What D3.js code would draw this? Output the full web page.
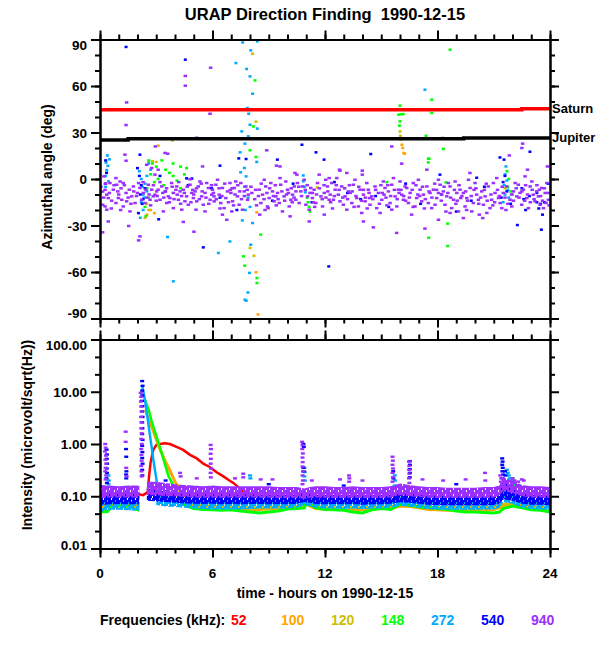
<!DOCTYPE html>
<html><head><meta charset="utf-8">
<script src="https://cdn.jsdelivr.net/npm/d3@7"></script>
<style>
body{margin:0;background:#fff}
svg text{font-family:"Liberation Sans",Arial,Helvetica,sans-serif;font-weight:bold;fill:#000;white-space:pre}
</style></head>
<body><svg id="c" width="600" height="650"></svg>
<script>
// ---------------- DATA ----------------
const freqLabels = ["52","100","120","148","272","540","940"];
const freqColors = ["#ff0000","#ffa500","#cdbe00","#00ff00","#00aaff","#0000ff","#9b30ff"];
const hourTicks = [0,6,12,18,24];
const angleTicks = [90,60,30,0,-30,-60,-90];
const intensityTicks = [100,10,1,0.1,0.01];
const intensityTickLabels = ["100.00","10.00","1.00","0.10","0.01"];

// planet directions [hour, deg]
const saturnDir = [[0,44.7],[22.5,44.7],[22.5,45.4],[24,45.4]];
const jupiterDir = [[0,25.2],[1.5,25.2],[1.5,25.9],[19.4,25.9],[19.4,26.5],[24,26.5]];

// azimuth points [hour, deg]
const az940 = [
[0.14,-8.1],[0.27,-7],[0.36,-10.1],[0.44,-12.3],[0.14,-16.6],[0.27,-17.7],[0.53,-2.6],[0.71,-6.9],[0.85,0.6],[0.89,-3.7],[0.98,-12.3],[0.85,-15.5],[0.36,-19.8],[0.44,-27.4],[0.14,-34.4],[0.21,1.7],
[1.07,-1.6],[1.24,-2.6],[1.39,-9],[1.56,-6.9],[1.16,-13.4],[1.42,-14.4],[1.69,-11.2],[1.78,-4.8],[1.24,-17.7],[1.6,-20.9],[1.87,-15.5],[1.53,-30.3],[1.33,15.7],[1.39,11.8],[1.42,49.4],[1.39,34.8],
[2.06,-2.6],[2.13,-5.8],[2.31,-9],[2.58,-3.7],[2.76,-6.9],[2.84,-11.2],[2.22,-13.4],[2.4,-15.5],[2.67,-13.4],[2.93,-10.1],[3.02,-8],[2.13,-37],[2.06,-39.6],[2.49,9.2],[2.76,7.1],[2.93,2.8],[2.95,21],
[3.1,-6.9],[3.29,-4.8],[3.47,-8],[3.64,-11.2],[3.82,-2.6],[3.91,-9],[3.2,-13.4],[3.56,-15.5],[3.73,-12.3],[3.38,-20.9],[3.91,-18.8],[3.1,6],[3.47,16.8],[3.61,16.3],
[4.09,-4.8],[4.27,-8],[4.44,-6.9],[4.62,-11.2],[4.8,-3.7],[4.89,-9],[4.18,-13.4],[4.53,-14.4],[4.71,-16.6],[4.36,-19.8],[4.44,-27.7],[4.8,-0.2],[4.12,-10.1],[4.98,-12.3],[4.55,66.5],[4.55,60.2],
[5.07,-8],[5.24,-4.8],[5.42,-11.2],[5.6,-9],[5.78,-5.8],[5.87,-13.4],[5.16,-14.4],[5.51,-16.6],[5.69,-2.6],[5.33,-1.6],[5.01,-34],[5.96,-10.1],[5.12,-19.8],[5.6,-20.9],[5.9,71.8],[5.87,42.1],[5.16,26.6],[5.47,8.1],
[6.0,-6.9],[6.18,-3.7],[6.36,-10.1],[6.53,-5.8],[6.71,-12.3],[6.8,-8],[6.09,-14.4],[6.44,-15.5],[6.62,-18.8],[6.27,-0.5],[6.93,-2.6],[6.76,-26.3],[6.08,-11.2],[6.53,-23],
[6.98,-9],[7.16,-5.8],[7.33,-11.2],[7.51,-2.6],[7.69,-8],[7.87,-13.4],[7.07,-14.4],[7.42,-16.6],[7.78,-4.8],[7.24,-1.6],[7.6,-19.8],[7.91,-10.1],[7.03,-20.9],
[8.49,-6.9],[8.67,-10.1],[8.84,-4.8],[9.02,-12.3],[9.2,-8],[9.29,-14.4],[8.58,-15.5],[8.93,-17.7],[9.11,-2.6],[8.76,-0.5],[9.38,-11.2],[8.52,-23],[8.97,-18.8],[8.89,18.5],[8.1,-9],[8.25,-13],
[9.47,-9],[9.64,-3.7],[9.82,-11.2],[10.0,-6.9],[10.18,-13.4],[10.36,-4.8],[9.56,-15.5],[9.91,-1.6],[10.09,-17.7],[10.27,-10.1],[9.73,-20.9],[9.6,0.6],[9.6,8.1],[10.14,-24.1],[9.41,8.6],[10.4,3.9],
[10.53,-2.6],[10.71,-8],[10.89,-0.5],[11.07,-11.2],[11.24,-5.8],[10.44,-13.4],[10.62,-15.5],[10.98,-16.6],[11.16,-19.8],[10.8,-4.8],[11.33,-9],[10.5,2.8],[11.16,-27.4],
[11.42,-6.9],[11.6,-2.6],[11.78,-11.2],[11.96,-9],[12.13,-4.8],[12.22,-13.4],[11.51,-15.5],[11.87,-17.7],[12.04,-0.5],[11.69,2.8],[12.28,-10.1],[11.33,-12.3],[11.96,-23],[12.22,0.6],
[12.36,-2.6],[12.54,-6.9],[12.71,-10.1],[12.89,-4.8],[13.07,-11.2],[13.25,-8],[12.45,-13.4],[12.8,-14.4],[12.98,-16.6],[12.63,0.6],[13.16,-19.8],[12.77,6],[13.16,3.9],[12.8,5.4],
[13.34,-9],[13.51,-3.7],[13.69,-12.3],[13.87,-6.9],[14.05,-10.1],[14.23,-2.6],[13.43,-15.5],[13.78,-17.7],[13.96,-21.9],[14.14,-14.4],[14.05,-27.4],[13.6,-0.5],[13.99,5.4],[13.99,2.8],
[14.31,-6.9],[14.49,-11.2],[14.67,-4.8],[14.85,-9],[15.03,-13.4],[15.2,-5.8],[14.4,-16.6],[14.76,-18.8],[15.11,-1.6],[14.58,-31.2],[14.94,-21.9],[14.37,-12.3],[15.15,-10.1],
[15.38,-8],[15.56,-3.7],[15.74,-11.2],[15.91,-6.9],[16.09,-10.1],[16.18,-13.4],[15.47,-15.5],[15.83,-17.7],[16.0,-1.6],[15.65,0.6],[15.82,-34.8],[16.27,-4.8],[15.56,-19.8],[16.09,9.9],[15.56,21],
[16.36,-5.8],[16.54,-9],[16.71,-2.6],[16.89,-12.3],[17.07,-6.9],[17.25,-10.1],[16.45,-15.5],[16.8,-17.7],[16.98,-0.5],[17.16,-14.4],[16.62,-23],[17.33,-32],
[17.43,-4.8],[17.6,-9],[17.78,-6.9],[17.96,-12.3],[18.14,-3.7],[18.23,-10.1],[17.51,-15.5],[17.87,-16.6],[18.05,-0.5],[17.69,-18.8],[18.05,-26.3],[17.43,6],
[18.31,-8],[18.49,-11.2],[18.67,-4.8],[18.85,-13.4],[19.03,-9],[19.2,-6.9],[18.4,-16.6],[18.76,-18.8],[18.94,-1.6],[19.12,-20.9],[18.58,-2.6],[19.24,-12.3],[18.67,-21.9],
[19.38,-9],[19.56,-12.3],[19.74,-5.8],[19.91,-15.5],[20.09,-10.1],[20.18,-13.4],[19.47,-17.7],[19.83,-20.9],[20.0,-2.6],[19.65,-0.5],[20.23,-23],[19.38,-25.2],[19.73,3.9],
[20.36,-8],[20.54,-11.2],[20.71,-4.8],[20.89,-13.4],[21.07,-9],[21.25,-12.3],[20.45,-16.6],[20.8,-18.8],[20.98,-2.6],[20.63,-21.9],[21.16,0.6],[20.41,-25.2],
[21.34,-15.5],[21.51,-9],[21.69,-4.8],[21.87,-13.4],[22.05,-8],[22.23,-11.2],[21.43,-18.8],[21.96,-17.7],[22.14,-2.6],[22.31,-3.7],[21.83,15.2],
[22.4,-9],[22.58,-6.9],[22.76,-12.3],[22.94,-4.8],[23.11,-10.1],[23.2,-14.4],[22.49,-16.6],[22.85,-18.8],[23.03,-1.6],[22.67,1.7],[23.29,-8],[22.8,6],[22.54,22.8],[22.5,20],
[23.38,-11.2],[23.56,-5.8],[23.74,-9],[23.83,-2.6],[23.91,-13.4],[23.47,-16.6],[23.65,-18.8],[23.86,8.1],[23.43,-6.9],[23.79,-15.5],
[0.05,-5],[0.2,-12],[0.5,-9],[0.62,-14],[0.75,-4],[0.95,-8],[0.6,-19],[0.3,-3],
[1.0,-10],[1.12,-6],[1.3,-4],[1.5,-12],[1.65,-16],[1.8,-8],[1.95,-11],[1.1,-20],
[2.0,-9],[2.45,-7],[2.62,-10],[2.85,-4],[2.3,-2],[2.7,-17],[3.0,-14],[2.5,-12],
[3.05,-11],[3.2,-2],[3.35,-9],[3.55,-6],[3.7,-15],[3.85,-5],[3.95,-13],[3.4,-12],
[4.05,-7],[4.2,-2],[4.35,-11],[4.5,-9],[4.65,-5],[4.85,-15],[4.95,-7],[4.3,-16],
[5.0,-10],[5.15,-6],[5.3,-13],[5.45,-8],[5.65,-12],[5.8,-16],[5.95,-4],[5.4,-3],
[6.05,-9],[6.2,-13],[6.35,-6],[6.5,-11],[6.65,-3],[6.85,-15],[6.95,-7],[6.4,-19],
[7.05,-6],[7.2,-10],[7.35,-4],[7.55,-13],[7.7,-11],[7.85,-7],[7.12,-17],[7.45,-8],
[8.05,-5],[8.3,-7],[8.45,-11],[8.6,-3],[8.75,-13],[8.9,-9],[8.35,-17],[8.8,-20],
[9.05,-6],[9.25,-11],[9.35,-4],[9.5,-13],[9.7,-8],[9.85,-14],[9.95,-10],[9.4,-17],
[10.05,-9],[10.2,-6],[10.35,-12],[10.45,-8],[10.6,-5],[10.75,-11],[10.95,-7],[10.25,-15],
[11.05,-4],[11.2,-9],[11.38,-15],[11.55,-10],[11.7,-6],[11.85,-13],[11.95,-4],[11.45,-18],
[12.05,-12],[12.15,-8],[12.3,-15],[12.5,-11],[12.6,-4],[12.75,-7],[12.95,-12],[12.4,-19],
[13.05,-6],[13.2,-13],[13.3,-4],[13.45,-8],[13.65,-11],[13.8,-5],[13.95,-14],[13.55,-18],
[14.05,-7],[14.15,-12],[14.35,-9],[14.55,-13],[14.7,-7],[14.9,-16],[14.98,-4],[14.25,-19],
[15.05,-9],[15.25,-12],[15.35,-4],[15.5,-11],[15.7,-7],[15.85,-13],[15.95,-9],[15.3,-17],
[16.05,-7],[16.2,-11],[16.3,-14],[16.5,-12],[16.65,-7],[16.85,-4],[16.95,-10],[16.7,-18],
[17.05,-11],[17.2,-5],[17.35,-13],[17.55,-8],[17.7,-12],[17.85,-3],[17.95,-7],[17.3,-19],
[18.05,-9],[18.2,-14],[18.35,-5],[18.55,-9],[18.7,-12],[18.9,-7],[18.98,-16],[18.45,-21],
[19.05,-14],[19.15,-4],[19.3,-11],[19.5,-8],[19.6,-14],[19.8,-11],[19.95,-7],[19.55,-20],
[20.05,-6],[20.2,-16],[20.3,-12],[20.5,-7],[20.65,-14],[20.85,-10],[20.95,-17],[20.6,-3],
[21.05,-15],[21.2,-7],[21.3,-11],[21.45,-5],[21.6,-12],[21.75,-16],[21.95,-10],[21.65,-20],
[22.05,-14],[22.2,-6],[22.35,-12],[22.5,-8],[22.65,-14],[22.8,-10],[22.95,-15],[22.7,-4],
[23.05,-7],[23.15,-13],[23.3,-4],[23.5,-11],[23.6,-14],[23.7,-6],[23.9,-9],[23.95,-17]
];
const az540 = [
[1.39,85.2],[4.55,77],[2.13,15.7],[4.62,0.4],[4.9,0.3],[9.46,12.5],[7.4,13.3],[6.4,8.6],[0.3,12],[0.35,4],[0.28,-3],
[2.0,7],[2.1,2],[2.2,-4],[2.15,-10],[2.25,-16],[2.05,-22],[2.3,-13],[2.4,-6],[3.13,-26],[3.2,2],
[5.51,-44.1],[12.2,-56.4],[7.79,12.9],[10.77,22.1],[11.52,17.2],[11.95,12.5],[14.44,16.1],[22.93,17.6],[21.33,13.9],[21.55,12.5],[18.13,2.8],[20.09,0.8],[23.54,-32.7],[22.26,-29.7],
[3.5,-8],[4.7,-4],[5.95,-6],[6.4,-12],[7.3,-20],[9.2,-14],[10.3,-3],[11.3,-15],[12.5,-2],[13.2,-9],[13.9,-13],[14.7,-11],[15.4,-18],[16.3,-3],[17.1,-16],[18.2,-10],[19.0,-21],[19.8,-14],[20.5,-5],[21.4,-12],[21.9,-16],[22.6,-13],[23.3,-9],[23.7,-15],[23.9,-3],[22.7,-20],
[23.3,-15],[23.4,-19],[23.6,-23],[23.5,-16],[22.9,-11],[22.5,-6],[21.7,-8],[21.6,2],[21.5,-2]
];
const az272 = [
[0.39,15.2],[0.5,12.7],[0.32,10.6],[0.42,8.5],[0.36,5.8],[0.3,2],[0.45,-1.5],[0.3,-5],
[2.1,5],[2.2,0],[2.25,-5],[2.3,-10],[2.2,-15],[2.3,-20],[2.15,-25],[2.6,10],[2.7,6],[2.5,2],[2.4,-3],[2.35,-12],[2.5,-8],[3.6,-37.4],[3.91,-66],
[7.61,88.1],[8.39,88.8],[8.04,83],[7.82,71],[8.0,66.2],[8.14,55],[7.25,74.8],[7.86,45.8],[7.93,42.1],[8.0,35],[8.39,32.5],[7.56,30.7],[7.91,27.5],[7.73,22.8],[7.47,17.2],[8.36,11],[7.7,7.1],[7.5,4.3],[7.79,1.7],[7.59,-26.7],[8.14,-28.4],[8.04,-42.4],[7.97,-60.6],[7.89,-73.2],[7.73,-77.9],[7.8,-78.5],[7.7,-5],[7.9,-12],[8.0,-18],[7.75,-20],
[6.31,-47.7],[6.93,-40.3],[10.84,2.3],[10.84,-1.5],[10.9,-5],[10.95,-8.6],[17.33,57.6],[18.27,26.5],
[21.65,8.1],[21.6,3],[21.7,-1],[21.55,-4],[21.75,-7],[21.6,-10],[21.8,-12],[21.5,-15]
];
const az148 = [
[8.27,63.6],[8.18,33.9],[8.0,18.5],[8.32,14.2],[8.57,-35.9],[7.65,-49.9],[7.72,-55.9],[8.37,-63.9],[8.37,-67.1],
[2.6,12],[2.8,10],[3.0,8],[3.3,12],[3.5,6],[3.7,4],[3.9,2],[4.1,-1],[2.7,3],[2.9,-2],[3.1,0],[2.5,-6],[2.6,-12],[2.4,-18],[2.45,-24],[3.4,-4],[4.3,-6],[4.5,3],[4.62,7],[4.3,8],[3.9,10],
[11.1,-15],[11.15,-18],[11.2,-21],[11.05,-12],
[16.0,47.3],[15.93,41.5],[16.05,41.7],[16.17,41.9],[16.0,37.2],[15.97,34.4],
[17.69,51.2],[17.69,42.6],[18.67,83.4],[17.39,27.9],[18.31,19.4],[17.51,13.1],[17.51,10.7],[17.55,13.1],[18.45,-2.2],[17.53,-37.9],[18.54,-43.2],[18.54,-28.8],
[21.7,5],[21.8,0],[21.75,-5],[21.9,-8],[22.0,-10],[15.3,-2]
];
const az120 = [
[8.14,80.8],[8.32,37],[3.11,21.5],[3.86,24.9],[8.0,-44.5],[8.21,-49.5],[16.0,30.7],[16.02,27.9],[16.05,25.4],[11.59,-5.4],
[2.6,11],[2.8,11.5],[3.0,11],[2.5,-16],[2.6,-20],[21.6,-6]
];
const az100 = [
[16.1,22.1],[16.15,20],[16.2,16.8],[16.25,16.3],[8.32,-60.2],[8.43,-87.4],[8.36,-21.5],[2.9,-22],[2.7,-20],[2.5,-23],[2.4,-25]
];

// intensity bands [hour, low, high]  (null = gap)
const band940 = [[0,0.092,0.165],[0.5,0.095,0.16],[1,0.095,0.155],[1.5,0.095,0.16],[2.1,0.095,0.16],[2.2,null,null],[2.5,0.105,0.19],[3,0.105,0.19],[3.5,0.1,0.18],[4,0.1,0.17],[4.5,0.097,0.165],[5,0.095,0.16],[5.5,0.094,0.155],[6,0.095,0.16],[6.5,0.094,0.155],[7,0.095,0.155],[7.5,0.094,0.155],[8,0.095,0.155],[8.5,0.094,0.155],[9,0.094,0.155],[9.5,0.093,0.15],[10,0.093,0.15],[10.5,0.094,0.15],[10.9,0.09,0.14],[11.2,0.094,0.15],[11.5,0.095,0.155],[12,0.094,0.155],[12.5,0.093,0.15],[13,0.093,0.15],[13.5,0.094,0.155],[14,0.093,0.15],[14.5,0.093,0.15],[15,0.093,0.15],[15.5,0.095,0.155],[16,0.105,0.175],[16.5,0.1,0.165],[17,0.097,0.155],[17.5,0.094,0.15],[18,0.093,0.15],[18.5,0.093,0.145],[19,0.093,0.145],[19.5,0.093,0.145],[20,0.093,0.145],[20.5,0.093,0.15],[21,0.094,0.15],[21.3,0.105,0.16],[21.5,0.125,0.23],[22,0.115,0.2],[22.5,0.1,0.165],[23,0.095,0.155],[23.5,0.095,0.155],[24,0.093,0.15]];
const band540 = [[0,0.068,0.12],[0.5,0.07,0.12],[1,0.071,0.115],[1.5,0.07,0.115],[2.1,0.07,0.12],[2.2,null,null],[2.5,0.082,0.14],[3,0.08,0.13],[3.5,0.078,0.125],[4,0.075,0.12],[4.5,0.073,0.115],[5,0.072,0.112],[5.5,0.071,0.11],[6,0.072,0.112],[6.5,0.07,0.11],[7,0.071,0.11],[7.5,0.07,0.108],[8,0.071,0.11],[8.5,0.071,0.108],[9,0.07,0.108],[9.5,0.071,0.108],[10,0.07,0.107],[10.5,0.072,0.108],[10.9,0.078,0.115],[11.2,0.075,0.11],[11.5,0.071,0.107],[12,0.07,0.106],[12.5,0.071,0.106],[13,0.07,0.105],[13.5,0.071,0.106],[14,0.069,0.105],[14.5,0.07,0.105],[15,0.07,0.106],[15.5,0.072,0.108],[16,0.077,0.12],[16.5,0.075,0.115],[17,0.072,0.11],[17.5,0.069,0.105],[18,0.068,0.102],[18.5,0.067,0.1],[19,0.067,0.1],[19.5,0.067,0.1],[20,0.067,0.1],[20.5,0.067,0.1],[21,0.068,0.102],[21.3,0.072,0.11],[21.5,0.088,0.2],[22,0.082,0.15],[22.5,0.072,0.115],[23,0.069,0.108],[23.5,0.069,0.106],[24,0.067,0.105]];
const band272 = [[0,0.05,0.08],[0.5,0.055,0.085],[1,0.055,0.085],[1.5,0.054,0.082],[2.1,0.053,0.08],[2.2,null,null],[3.0,0.068,0.12],[3.5,0.064,0.1],[4,0.062,0.095],[4.5,0.06,0.09],[5,0.058,0.088],[5.5,0.057,0.086],[6,0.056,0.085],[6.5,0.056,0.085],[7,0.056,0.084],[7.5,0.056,0.083],[8,0.057,0.085],[8.5,0.058,0.088],[9,0.058,0.088],[9.5,0.058,0.088],[10,0.058,0.088],[10.5,0.06,0.09],[10.9,0.068,0.11],[11.2,0.064,0.1],[11.5,0.06,0.09],[12,0.058,0.088],[12.5,0.058,0.087],[13,0.057,0.086],[13.5,0.058,0.087],[14,0.057,0.086],[14.5,0.058,0.088],[15,0.058,0.088],[15.5,0.06,0.09],[16,0.065,0.1],[16.5,0.063,0.095],[17,0.06,0.09],[17.5,0.057,0.087],[18,0.056,0.086],[18.5,0.055,0.085],[19,0.055,0.085],[19.5,0.055,0.085],[20,0.055,0.085],[20.5,0.056,0.085],[21,0.056,0.086],[21.3,0.06,0.09],[21.5,0.078,0.2],[22,0.072,0.16],[22.5,0.06,0.09],[23,0.057,0.087],[23.5,0.056,0.086],[24,0.055,0.085]];
// intensity baselines [hour, value]
const line148 = [[0,0.05],[0.4,0.051],[0.6,0.062],[1,0.066],[1.5,0.064],[1.8,0.058],[2.1,0.054],[2.2,null],[4.3,0.075],[4.5,0.068],[5,0.058],[5.5,0.056],[6,0.055],[6.5,0.054],[7,0.055],[7.5,0.052],[8,0.05],[8.5,0.048],[9,0.05],[9.5,0.052],[10,0.057],[10.5,0.058],[10.9,0.06],[11,0.075],[11.5,0.06],[12,0.056],[12.5,0.055],[13,0.054],[13.5,0.05],[14,0.048],[14.5,0.055],[15,0.058],[15.5,0.056],[16,0.07],[16.5,0.068],[17,0.062],[17.5,0.06],[18,0.058],[18.5,0.056],[19,0.052],[19.5,0.05],[20,0.05],[20.5,0.049],[21,0.048],[21.3,0.05],[21.5,0.058],[22,0.065],[22.5,0.06],[23,0.055],[23.5,0.054],[24,0.05]];
const line100 = [[0,0.062],[0.5,0.064],[1,0.066],[1.5,0.064],[2.1,0.06],[2.2,null],[4.5,0.075],[5,0.065],[5.5,0.062],[6,0.06],[6.5,0.058],[7,0.059],[7.5,0.058],[8,0.056],[8.5,0.056],[9,0.057],[9.5,0.058],[10,0.059],[10.5,0.06],[11,0.07],[11.5,0.058],[12,0.057],[12.5,0.056],[13,0.056],[13.5,0.055],[14,0.056],[14.5,0.057],[15,0.058],[15.5,0.058],[16,0.065],[16.5,0.064],[17,0.06],[17.5,0.056],[18,0.055],[18.5,0.054],[19,0.055],[19.5,0.055],[20,0.055],[20.5,0.054],[21,0.055],[21.5,0.065],[22,0.07],[22.5,0.062],[23,0.06],[23.5,0.058],[24,0.056]];
const line120 = [[0,0.068],[0.5,0.07],[1,0.071],[1.5,0.069],[2.1,0.065],[2.2,null],[4.4,0.08],[5,0.07],[5.5,0.066],[6,0.064],[6.5,0.062],[7,0.062],[7.5,0.061],[8,0.06],[8.5,0.06],[9,0.061],[9.5,0.062],[10,0.063],[10.5,0.064],[11,0.075],[11.5,0.063],[12,0.061],[12.5,0.06],[13,0.06],[13.5,0.06],[14,0.06],[14.5,0.061],[15,0.062],[15.5,0.063],[16,0.07],[16.5,0.068],[17,0.064],[17.5,0.062],[18,0.06],[18.5,0.06],[19,0.061],[19.5,0.062],[20,0.062],[20.5,0.061],[21,0.061],[21.5,0.07],[22,0.075],[22.5,0.066],[23,0.064],[23.5,0.062],[24,0.06]];
// burst decays [hour, value]
const decay52 = [[2.0,0.11],[2.3,0.105],[2.55,0.12],[2.62,0.25],[2.7,0.45],[2.84,0.77],[3.0,0.95],[3.2,1.0],[3.47,1.03],[3.73,1.0],[4.05,0.89],[4.44,0.77],[4.8,0.62],[5.16,0.53],[5.51,0.42],[5.87,0.36],[6.2,0.29],[6.58,0.24],[6.9,0.2],[7.11,0.18],[7.47,0.14],[7.8,0.11]];
const decay100 = [[2.45,4.0],[2.84,1.85],[3.2,0.83],[3.45,0.5],[3.73,0.32],[4.0,0.19],[4.27,0.14],[4.5,0.08]];
const decay120 = [[2.4,4.5],[2.8,1.9],[3.15,0.85],[3.7,0.31],[4.2,0.14],[4.4,0.085]];
const decay148 = [[2.4,6.9],[2.6,4.5],[2.76,2.67],[3.1,1.11],[3.4,0.49],[3.64,0.25],[4.0,0.14],[4.3,0.075]];
const decay272 = [[2.26,12.5],[2.4,6.9],[2.55,2.9],[2.7,1.19],[2.85,0.49],[3.0,0.22],[3.1,0.13]];
// intensity spikes / isolated points [hour, value]
const pts940 = [[0.28,1.0],[0.3,0.85],[0.27,0.72],[0.32,0.6],[0.29,0.5],[0.33,0.42],[0.3,0.35],[0.28,0.3],[0.33,0.25],[0.3,0.21],
[1.37,1.72],[1.37,1.1],[1.4,0.35],[1.42,0.24],
[2.17,9.5],[2.2,8.0],[2.18,6.5],[2.2,5.2],[2.22,4.2],[2.19,3.3],[2.21,2.6],[2.2,2.0],[2.22,1.6],[2.2,1.25],[2.23,1.0],[2.2,0.8],[2.21,0.62],[2.22,0.48],[2.2,0.38],[2.21,0.3],[2.22,0.24],
[4.27,0.28],[4.3,0.24],[5.16,0.22],
[5.9,0.96],[5.92,0.8],[5.9,0.65],[5.91,0.52],[5.9,0.42],[5.92,0.34],[5.9,0.28],[5.91,0.23],
[7.2,0.22],[7.64,0.27],[7.64,0.23],[8.57,0.21],
[10.78,1.1],[10.8,0.95],[10.79,0.8],[10.82,0.66],[10.8,0.55],[10.81,0.45],[10.8,0.37],[10.83,0.3],[10.8,0.25],[10.82,0.2],[10.8,0.17],
[13.28,0.25],[13.3,0.22],[13.29,0.19],
[15.6,0.57],[15.62,0.48],[15.6,0.4],[15.63,0.34],[15.6,0.28],[15.62,0.23],[15.6,0.19],
[16.48,0.46],[16.5,0.38],[16.49,0.32],[16.5,0.27],[16.48,0.22],[16.5,0.18],
[20.53,0.28],[20.55,0.2],
[21.35,0.25],[21.4,0.22],[21.38,0.19],[21.45,0.17],[22.0,0.22],[22.1,0.2],[22.3,0.19],[22.5,0.21],[22.6,0.2],
[9.2,0.21],[11.3,0.2],[12.8,0.21],[14.0,0.2],[17.2,0.21],[18.3,0.2],[19.5,0.21]];
const pts540 = [[0.35,0.78],[0.37,0.63],[0.36,0.52],[0.38,0.42],[0.36,0.34],[0.37,0.28],[0.35,0.22],[0.37,0.18],
[1.39,0.8],[1.4,0.57],[1.41,0.3],[1.39,0.26],[1.4,0.22],
[2.25,16],[2.27,13],[2.25,10.5],[2.26,8.5],[2.24,6.7],[2.26,5.3],[2.25,4.2],[2.27,3.3],[2.25,2.6],[2.26,2.0],[2.25,1.55],[2.27,1.2],[2.25,0.92],[2.26,0.7],[2.25,0.54],[2.27,0.42],[2.25,0.32],[2.26,0.25],
[10.85,1.0],[10.87,0.88],[10.85,0.35],[10.86,0.3],
[15.64,0.3],[15.65,0.22],
[16.52,0.47],[16.53,0.4],[16.52,0.33],[16.53,0.28],[16.52,0.23],
[21.45,0.53],[21.47,0.46],[21.45,0.4],[21.48,0.35],[21.46,0.3],[21.5,0.26],[21.47,0.22],[21.6,0.3],[21.62,0.25],
[3.5,0.2],[9.0,0.17],[13.0,0.16],[19.0,0.17]];
const pts272 = [[0.45,0.25],[0.47,0.2],[0.45,0.17],
[10.9,0.35],[10.92,0.29],[10.9,0.24],[10.93,0.2],
[13.38,0.14],
[15.72,0.25],[15.74,0.2],[15.72,0.16],
[21.7,0.32],[21.75,0.28],[21.8,0.25],[21.85,0.22],[21.9,0.19],[22.0,0.17],[21.95,0.2],
[8.0,0.25],[8.02,0.22]];
const pts148 = [[22.0,0.22],[22.05,0.19],[22.1,0.17],[22.15,0.16]];
const pts52 = [[0.05,0.105],[10.8,0.095],[10.9,0.09],[11.7,0.092],[15.9,0.092],[16.1,0.09],[21.33,0.085],[22.3,0.09]];

// ---------------- DRAWING ----------------
const svg = d3.select("#c");
const x = d3.scaleLinear().domain([0,24]).range([100,550]);
const yA = d3.scaleLinear().domain([-90,90]).range([318.5,39.5]);
const yI = d3.scaleLog().domain([0.01,100]).range([548.5,339.5]);
const col = k => freqColors[freqLabels.indexOf(k)];

const defs = svg.append("defs");
defs.append("clipPath").attr("id","clipA").append("rect").attr("x",100).attr("y",39.5).attr("width",450).attr("height",279);
defs.append("clipPath").attr("id","clipI").append("rect").attr("x",100).attr("y",339.5).attr("width",450).attr("height",209);
// speckled fills for the dense intensity bands (texture only)
function speckle(id, color, cells) {
  const p = defs.append("pattern").attr("id", id).attr("patternUnits","userSpaceOnUse").attr("width",8).attr("height",6);
  cells.forEach(c => p.append("rect").attr("x",c[0]).attr("y",c[1]).attr("width",c[2]).attr("height",c[3]).attr("fill",color));
}
speckle("sp940", col("940"), [[0,0,8,2],[0,2,5,2],[6,2,2,2],[0,4,2,2],[3,4,5,2]]);
speckle("sp540", col("540"), [[0,0,7,2],[0,2,3,2],[4,2,4,2],[1,4,7,2]]);
speckle("sp272", col("272"), [[1,0,7,2],[0,2,6,2],[0,4,3,2],[4,4,4,2]]);

// Title
svg.append("text").attr("x",325).attr("y",20).attr("text-anchor","middle").style("font-size","16.5px")
  .text("URAP Direction Finding  1990-12-15");

// ---- top panel ----
const gA = svg.append("g").attr("clip-path","url(#clipA)");
function azDots(data, key, w, h) {
  gA.append("g").selectAll("rect").data(data).join("rect")
    .attr("x", d => x(d[0]) - w/2).attr("y", d => yA(d[1]) - h/2)
    .attr("width", w).attr("height", h).attr("fill", col(key));
}
azDots(az100,"100",3,2.5);
azDots(az120,"120",3,2.5);
azDots(az148,"148",3,2.5);
azDots(az272,"272",3,2.5);
azDots(az540,"540",3,2.5);
azDots(az940,"940",3.5,2.5);

const planetLine = d3.line().x(d => x(d[0])).y(d => yA(d[1]));
gA.append("path").attr("d", planetLine(saturnDir)).attr("fill","none").attr("stroke","#ff0000").attr("stroke-width",3.5);
gA.append("path").attr("d", planetLine(jupiterDir)).attr("fill","none").attr("stroke","#000").attr("stroke-width",3.5);
svg.append("text").attr("x",552).attr("y",yA(saturnDir[saturnDir.length-1][1])+4).style("font-size","13px").text("Saturn");
svg.append("text").attr("x",552).attr("y",yA(jupiterDir[jupiterDir.length-1][1])+4).style("font-size","13px").text("Jupiter");

// ---- bottom panel ----
const gI = svg.append("g").attr("clip-path","url(#clipI)");
const lineI = d3.line().defined(d => d[1] != null).x(d => x(d[0])).y(d => yI(d[1]));
const areaI = d3.area().defined(d => d[1] != null).x(d => x(d[0])).y0(d => yI(d[1])).y1(d => yI(d[2]));
function iLine(data, key, w) {
  gI.append("path").attr("d", lineI(data)).attr("fill","none").attr("stroke", col(key)).attr("stroke-width", w);
}
function iBand(data, key) {
  gI.append("path").attr("d", areaI(data)).attr("fill", `url(#sp${key})`);
}
function iDots(data, key) {
  gI.append("g").selectAll("rect").data(data).join("rect")
    .attr("x", d => x(d[0]) - 2).attr("y", d => yI(d[1]) - 1.2)
    .attr("width", 4).attr("height", 2.4).attr("fill", col(key));
}
iLine(decay52,"52",2.5); iDots(pts52,"52");
iLine(line100,"100",3); iLine(decay120,"120",2.5); iLine(decay100,"100",2.5);
iLine(line120,"120",3);
iLine(line148,"148",3); iLine(decay148,"148",2.5); iDots(pts148,"148");
iBand(band272,"272"); iLine(decay272,"272",2.5); iDots(pts272,"272");
iBand(band540,"540"); iDots(pts540,"540");
iBand(band940,"940"); iDots(pts940,"940");

// ---- axes ----
const hourMinor = d3.range(0,25);
function frame(yScale, top, bottom, yMajor, yMinor) {
  const g = svg.append("g").attr("class","ax");
  const mk = (axis, tr) => g.append("g").attr("transform", tr).call(axis);
  mk(d3.axisBottom(x).tickValues(hourMinor).tickSize(5).tickFormat("").tickSizeOuter(0), `translate(0,${bottom})`);
  mk(d3.axisBottom(x).tickValues(hourTicks).tickSize(9).tickFormat("").tickSizeOuter(0), `translate(0,${bottom})`);
  mk(d3.axisTop(x).tickValues(hourMinor).tickSize(5).tickFormat("").tickSizeOuter(0), `translate(0,${top})`);
  mk(d3.axisTop(x).tickValues(hourTicks).tickSize(9).tickFormat("").tickSizeOuter(0), `translate(0,${top})`);
  mk(d3.axisLeft(yScale).tickValues(yMinor).tickSize(5).tickFormat("").tickSizeOuter(0), `translate(100,0)`);
  mk(d3.axisLeft(yScale).tickValues(yMajor).tickSize(9).tickFormat("").tickSizeOuter(0), `translate(100,0)`);
  mk(d3.axisRight(yScale).tickValues(yMinor).tickSize(5).tickFormat("").tickSizeOuter(0), `translate(550,0)`);
  mk(d3.axisRight(yScale).tickValues(yMajor).tickSize(9).tickFormat("").tickSizeOuter(0), `translate(550,0)`);
  return g;
}
frame(yA, 39.5, 318.5, angleTicks, d3.range(-90,91,10));
const logMinor = [];
[-2,-1,0,1].forEach(k => { logMinor.push(Math.pow(10,k+1/3), Math.pow(10,k+2/3)); });
frame(yI, 339.5, 548.5, intensityTicks, logMinor);
svg.selectAll(".ax path.domain").attr("stroke","#000").attr("stroke-width",2);
svg.selectAll(".ax line").attr("stroke","#000").attr("stroke-width",2);

// tick labels
angleTicks.forEach(v => {
  const off = v === 90 ? 5.5 : (v === -90 ? -5.5 : 0);
  svg.append("text").attr("x",87).attr("y",yA(v)+off+5).attr("text-anchor","end").style("font-size","13.5px").text(String(v));
});
intensityTicks.forEach((v,i) => {
  const off = i === 0 ? 5.5 : (i === intensityTicks.length-1 ? -3.5 : 0);
  svg.append("text").attr("x",87).attr("y",yI(v)+off+5).attr("text-anchor","end").style("font-size","13.5px").text(intensityTickLabels[i]);
});
hourTicks.forEach(v => {
  svg.append("text").attr("x",x(v)).attr("y",578).attr("text-anchor","middle").style("font-size","13.5px").text(String(v));
});

// axis titles
svg.append("text").attr("transform","translate(52,177) rotate(-90)").attr("text-anchor","middle").style("font-size","14px").text("Azimuthal angle (deg)");
svg.append("text").attr("transform","translate(32,435) rotate(-90)").attr("text-anchor","middle").style("font-size","14px").text("Intensity (microvolt/sqrt(Hz))");
svg.append("text").attr("x",325).attr("y",598).attr("text-anchor","middle").style("font-size","14px").text("time - hours on 1990-12-15");

// legend
svg.append("text").attr("x",100).attr("y",625).style("font-size","14px").text("Frequencies (kHz):");
freqLabels.forEach((f,i) => {
  svg.append("text").attr("x",231+50*i).attr("y",625).style("font-size","14px").style("fill",freqColors[i]).text(f);
});
</script></body></html>
